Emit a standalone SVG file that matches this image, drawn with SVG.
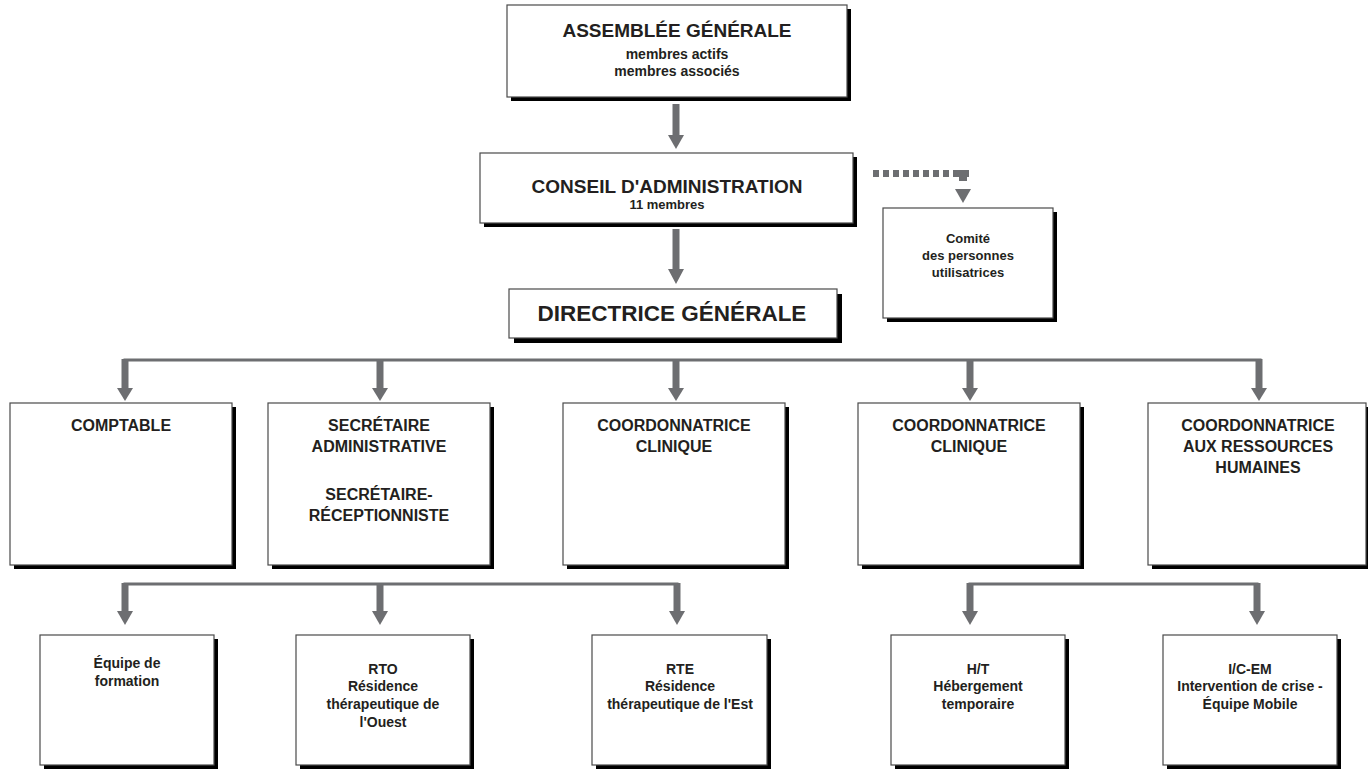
<svg xmlns="http://www.w3.org/2000/svg" width="1370" height="769" viewBox="0 0 1370 769">
<defs>
<style>
.box{fill:#fff;stroke:#4a4a4a;stroke-width:1.2}
.sh{fill:#000}
.t{font-family:"Liberation Sans",Arial,sans-serif;font-weight:bold;fill:#231f20;text-anchor:middle}
.big{font-size:19px}
.dir{font-size:22.5px}
.sub{font-size:14px}
.num{font-size:13px}
.mid{font-size:16px}
.cm{font-size:13px}
.sm{font-size:14px}
.bus{stroke:#6d6e71;stroke-width:3;fill:none}
.shaft{stroke:#6d6e71;stroke-width:7;fill:none}
.head{fill:#6d6e71}
.dot{fill:#6d6e71}
</style>
</defs>
<rect width="1370" height="769" fill="#fff"/>

<g id="connectors">
  <!-- Assemblée -> Conseil -->
  <line class="shaft" x1="676" y1="104" x2="676" y2="137"/>
  <polygon class="head" points="668,135 684,135 676,149"/>
  <!-- Conseil -> Directrice -->
  <line class="shaft" x1="676" y1="229" x2="676" y2="271"/>
  <polygon class="head" points="668,269 684,269 676,284"/>
  <!-- dotted Conseil -> Comité -->
  <rect class="dot" x="873" y="170" width="6" height="7"/>
  <rect class="dot" x="883" y="170" width="6" height="7"/>
  <rect class="dot" x="893" y="170" width="6" height="7"/>
  <rect class="dot" x="903" y="170" width="6" height="7"/>
  <rect class="dot" x="913" y="170" width="6" height="7"/>
  <rect class="dot" x="923" y="170" width="6" height="7"/>
  <rect class="dot" x="933" y="170" width="6" height="7"/>
  <rect class="dot" x="943" y="170" width="6" height="7"/>
  <rect class="dot" x="953" y="170" width="16" height="7"/>
  <rect class="dot" x="959" y="177" width="8" height="4"/>
  <polygon class="head" points="955,189 971,189 963,203"/>
  <!-- Directrice bus -->
  <polyline class="bus" points="125,364 125,360 1260,360 1260,364"/>
  <line class="shaft" x1="125" y1="359" x2="125" y2="389"/>
  <polygon class="head" points="117,388 133,388 125,401"/>
  <line class="shaft" x1="380" y1="359" x2="380" y2="389"/>
  <polygon class="head" points="372,388 388,388 380,401"/>
  <line class="shaft" x1="676" y1="359" x2="676" y2="389"/>
  <polygon class="head" points="668,388 684,388 676,401"/>
  <line class="shaft" x1="970" y1="359" x2="970" y2="389"/>
  <polygon class="head" points="962,388 978,388 970,401"/>
  <line class="shaft" x1="1259" y1="359" x2="1259" y2="389"/>
  <polygon class="head" points="1251,388 1267,388 1259,401"/>
  <!-- bottom left bus -->
  <polyline class="bus" points="125,588 125,584 677,584 677,588"/>
  <line class="shaft" x1="125" y1="583" x2="125" y2="613"/>
  <polygon class="head" points="117,611 133,611 125,625"/>
  <line class="shaft" x1="380" y1="583" x2="380" y2="613"/>
  <polygon class="head" points="372,611 388,611 380,625"/>
  <line class="shaft" x1="677" y1="583" x2="677" y2="613"/>
  <polygon class="head" points="669,611 685,611 677,625"/>
  <!-- bottom right bus -->
  <polyline class="bus" points="970,588 970,584 1257,584 1257,588"/>
  <line class="shaft" x1="970" y1="583" x2="970" y2="613"/>
  <polygon class="head" points="962,611 978,611 970,625"/>
  <line class="shaft" x1="1257" y1="583" x2="1257" y2="613"/>
  <polygon class="head" points="1249,611 1265,611 1257,625"/>
</g>

<g id="assemblee">
  <rect class="sh" x="511" y="9" width="340" height="92"/>
  <rect class="box" x="507" y="5" width="340" height="92"/>
  <text class="t big" x="677" y="37">ASSEMBLÉE GÉNÉRALE</text>
  <text class="t sub" x="677" y="59">membres actifs</text>
  <text class="t sub" x="677" y="76">membres associés</text>
</g>

<g id="conseil">
  <rect class="sh" x="484" y="157" width="373" height="70"/>
  <rect class="box" x="480" y="153" width="373" height="70"/>
  <text class="t big" x="667" y="193">CONSEIL D'ADMINISTRATION</text>
  <text class="t num" x="667" y="209">11 membres</text>
</g>

<g id="comite">
  <rect class="sh" x="887" y="212" width="170" height="110"/>
  <rect class="box" x="883" y="208" width="170" height="110"/>
  <text class="t cm" x="968" y="243">Comité</text>
  <text class="t cm" x="968" y="260">des personnes</text>
  <text class="t cm" x="968" y="277">utilisatrices</text>
</g>

<g id="directrice">
  <rect class="sh" x="514" y="294" width="328" height="49"/>
  <rect class="box" x="509" y="289" width="328" height="49"/>
  <text class="t dir" x="672" y="321">DIRECTRICE GÉNÉRALE</text>
</g>

<g id="comptable">
  <rect class="sh" x="14" y="407" width="222" height="162"/>
  <rect class="box" x="10" y="403" width="222" height="162"/>
  <text class="t mid" x="121" y="431">COMPTABLE</text>
</g>

<g id="secretaire">
  <rect class="sh" x="272" y="407" width="222" height="162"/>
  <rect class="box" x="268" y="403" width="222" height="162"/>
  <text class="t mid" x="379" y="431">SECRÉTAIRE</text>
  <text class="t mid" x="379" y="452">ADMINISTRATIVE</text>
  <text class="t mid" x="379" y="500">SECRÉTAIRE-</text>
  <text class="t mid" x="379" y="521">RÉCEPTIONNISTE</text>
</g>

<g id="coord-clinique-1">
  <rect class="sh" x="567" y="407" width="222" height="162"/>
  <rect class="box" x="563" y="403" width="222" height="162"/>
  <text class="t mid" x="674" y="431">COORDONNATRICE</text>
  <text class="t mid" x="674" y="452">CLINIQUE</text>
</g>

<g id="coord-clinique-2">
  <rect class="sh" x="862" y="407" width="222" height="162"/>
  <rect class="box" x="858" y="403" width="222" height="162"/>
  <text class="t mid" x="969" y="431">COORDONNATRICE</text>
  <text class="t mid" x="969" y="452">CLINIQUE</text>
</g>

<g id="coord-rh">
  <rect class="sh" x="1152" y="407" width="216" height="162"/>
  <rect class="box" x="1148" y="403" width="218" height="162"/>
  <text class="t mid" x="1258" y="431">COORDONNATRICE</text>
  <text class="t mid" x="1258" y="452">AUX RESSOURCES</text>
  <text class="t mid" x="1258" y="473">HUMAINES</text>
</g>

<g id="equipe-formation">
  <rect class="sh" x="44" y="639" width="174" height="130"/>
  <rect class="box" x="40" y="635" width="174" height="130"/>
  <text class="t sm" x="127" y="668">Équipe de</text>
  <text class="t sm" x="127" y="686">formation</text>
</g>

<g id="rto">
  <rect class="sh" x="300" y="639" width="174" height="130"/>
  <rect class="box" x="296" y="635" width="174" height="130"/>
  <text class="t sm" x="383" y="674">RTO</text>
  <text class="t sm" x="383" y="691">Résidence</text>
  <text class="t sm" x="383" y="709">thérapeutique de</text>
  <text class="t sm" x="383" y="727">l'Ouest</text>
</g>

<g id="rte">
  <rect class="sh" x="596" y="639" width="175" height="130"/>
  <rect class="box" x="592" y="635" width="175" height="130"/>
  <text class="t sm" x="680" y="674">RTE</text>
  <text class="t sm" x="680" y="691">Résidence</text>
  <text class="t sm" x="680" y="709">thérapeutique de l'Est</text>
</g>

<g id="ht">
  <rect class="sh" x="895" y="639" width="174" height="130"/>
  <rect class="box" x="891" y="635" width="174" height="130"/>
  <text class="t sm" x="978" y="674">H/T</text>
  <text class="t sm" x="978" y="691">Hébergement</text>
  <text class="t sm" x="978" y="709">temporaire</text>
</g>

<g id="icem">
  <rect class="sh" x="1167" y="639" width="174" height="130"/>
  <rect class="box" x="1163" y="635" width="174" height="130"/>
  <text class="t sm" x="1250" y="674">I/C-EM</text>
  <text class="t sm" x="1250" y="691">Intervention de crise -</text>
  <text class="t sm" x="1250" y="709">Équipe Mobile</text>
</g>
</svg>
